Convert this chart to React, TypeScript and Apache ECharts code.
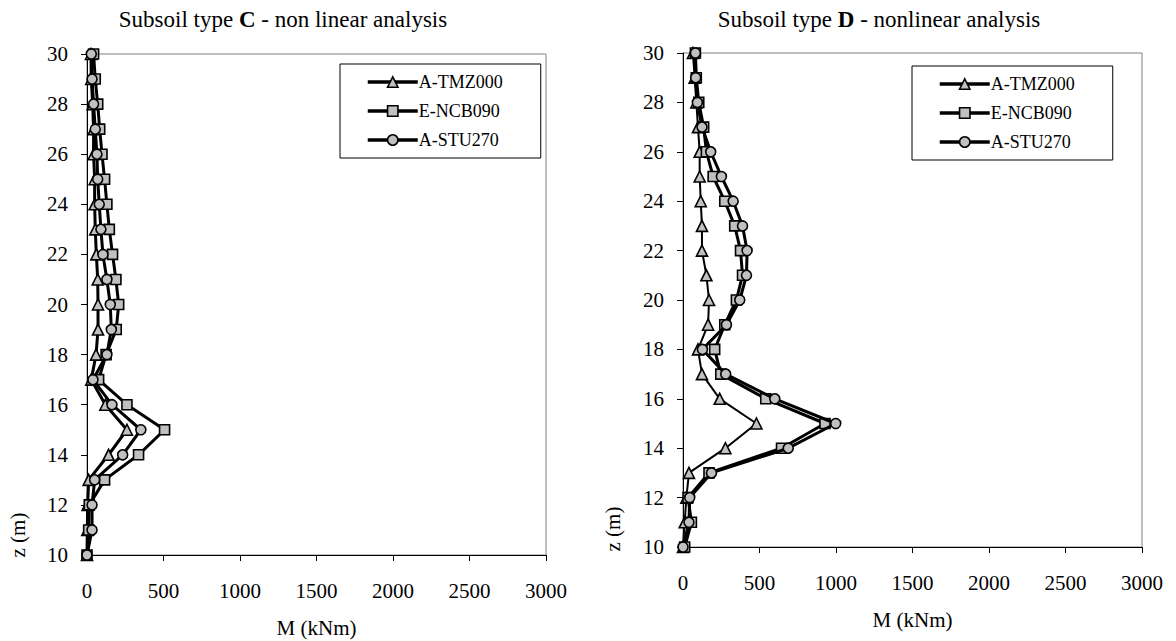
import React, { useEffect, useRef } from "react";
import * as echarts from "echarts";

const depths = [30, 29, 28, 27, 26, 25, 24, 23, 22, 21, 20, 19, 18, 17, 16, 15, 14, 13, 12, 11, 10];
const seriesNames = ["A-TMZ000", "E-NCB090", "A-STU270"];
const symbols = ["triangle", "rect", "circle"];

// Subsoil type C (values in kNm, by depth from 30 down to 10)
const cTMZ = [26, 28, 37, 43, 43, 50, 50, 54, 61, 70, 72, 72, 59, 28, 120, 261, 141, 11, 4, 2, 0];
const cNCB = [43, 54, 70, 83, 98, 115, 130, 146, 167, 189, 207, 191, 125, 76, 261, 507, 337, 115, 15, 11, 0];
const cSTU = [28, 33, 43, 54, 65, 70, 80, 91, 104, 130, 152, 159, 130, 39, 163, 352, 233, 50, 33, 33, 0];

// Subsoil type D
const dTMZ = [65, 76, 87, 98, 109, 109, 116, 124, 124, 153, 170, 164, 98, 124, 240, 480, 277, 39, 22, 11, 0];
const dNCB = [81, 87, 103, 135, 153, 197, 273, 338, 376, 389, 349, 273, 207, 247, 541, 928, 644, 170, 33, 55, 11];
const dSTU = [81, 83, 94, 124, 181, 251, 328, 389, 419, 415, 371, 284, 127, 279, 600, 998, 688, 186, 44, 39, 0];

const xTicks = [0, 500, 1000, 1500, 2000, 2500, 3000];
const zTicks = [10, 12, 14, 16, 18, 20, 22, 24, 26, 28, 30];

const FONT = "Liberation Serif";

function App() {
  const ref = useRef<HTMLDivElement>(null);
  useEffect(() => {
    document.body.style.margin = "0";
    const chart = echarts.init(ref.current!, null, { renderer: "svg" });
    const grids = [
      { left: 87, top: 54, width: 459, height: 501 },
      { left: 683, top: 53, width: 459, height: 494 },
    ];
    const mkX = (i: number) => ({
      type: "value",
      gridIndex: i,
      min: xTicks[0],
      max: xTicks[xTicks.length - 1],
      interval: xTicks[1] - xTicks[0],
      axisLine: { show: true, onZero: false, lineStyle: { color: "#000", width: 1 } },
      axisTick: { show: true, inside: false, length: 6, lineStyle: { color: "#000" } },
      axisLabel: {
        color: "#000",
        fontSize: 21,
        fontFamily: FONT,
        margin: 25,
        formatter: (v: number) => String(v),
      },
      splitLine: { show: false },
      name: "M (kNm)",
      nameLocation: "middle",
      nameGap: 62,
      nameTextStyle: { color: "#000", fontSize: 21, fontFamily: FONT },
    });
    const mkY = (i: number) => ({
      type: "value",
      gridIndex: i,
      min: zTicks[0],
      max: zTicks[zTicks.length - 1],
      interval: zTicks[1] - zTicks[0],
      axisLine: { show: true, onZero: false, lineStyle: { color: "#000", width: 1 } },
      axisTick: { show: true, inside: false, length: 6, lineStyle: { color: "#000" } },
      axisLabel: { color: "#000", fontSize: 21, fontFamily: FONT, margin: 19 },
      splitLine: { show: false },
    });
    const dataSets = [
      [cTMZ, cNCB, cSTU],
      [dTMZ, dNCB, dSTU],
    ];
    const widths = [
      [3, 3, 3],
      [2, 3, 3],
    ];
    const series: any[] = [];
    dataSets.forEach((set, gi) => {
      set.forEach((vals, si) => {
        series.push({
          type: "line",
          name: seriesNames[si],
          xAxisIndex: gi,
          yAxisIndex: gi,
          data: vals.map((v, k) => [v, depths[k]]),
          symbol: symbols[si],
          symbolSize: si === 0 ? 11 : 10,
          showAllSymbol: true,
          itemStyle: { color: "#c0c0c0", borderColor: "#000", borderWidth: 1.6 },
          lineStyle: { color: "#000", width: widths[gi][si] },
          z: 2 + si,
        });
      });
    });
    const mkLegend = (left: number, top: number) => ({
      orient: "vertical",
      left,
      top,
      data: seriesNames,
      itemWidth: 50,
      itemHeight: 13,
      itemGap: 9,
      padding: [8, 38, 8, 26],
      borderColor: "#000",
      borderWidth: 1,
      backgroundColor: "#fff",
      selectedMode: false,
      lineStyle: { color: "#000", width: 3.5 },
      itemStyle: { color: "#c0c0c0", borderColor: "#000", borderWidth: 1.6 },
      textStyle: {
        color: "#000",
        fontSize: 18,
        lineHeight: 20,
        fontFamily: FONT,
        padding: [0, 0, 0, -4],
      },
    });
    const titleRich = {
      a: { fontSize: 23, fontFamily: FONT, color: "#000" },
      b: { fontSize: 23, fontFamily: FONT, color: "#000", fontWeight: "bold" },
    };
    const zName = (x: number, y: number) => ({
      type: "text",
      x,
      y,
      rotation: Math.PI / 2,
      style: {
        text: "z (m)",
        fontSize: 21,
        fontFamily: FONT,
        fill: "#000",
        align: "center",
        verticalAlign: "middle",
      },
    });
    chart.setOption({
      animation: false,
      backgroundColor: "#fff",
      textStyle: { fontFamily: FONT, color: "#000" },
      grid: grids.map((g) => ({
        ...g,
        outerBoundsMode: "none",
        containLabel: false,
        show: true,
        borderColor: "#808080",
        borderWidth: 1,
      })),
      xAxis: [mkX(0), mkX(1)],
      yAxis: [mkY(0), mkY(1)],
      legend: [mkLegend(340, 64), mkLegend(912, 66)],
      series,
      graphic: [
        {
          type: "text",
          x: 283,
          y: 19,
          style: {
            text: "{a|Subsoil type }{b|C}{a| - non linear analysis}",
            rich: titleRich,
            align: "center",
            verticalAlign: "middle",
          },
        },
        {
          type: "text",
          x: 879,
          y: 19,
          style: {
            text: "{a|Subsoil type }{b|D}{a| - nonlinear analysis}",
            rich: titleRich,
            align: "center",
            verticalAlign: "middle",
          },
        },
        zName(18, 535),
        zName(613, 529),
      ],
    });
    return () => chart.dispose();
  }, []);
  return <div ref={ref} style={{ width: 1176, height: 641 }} />;
}

export default App;
